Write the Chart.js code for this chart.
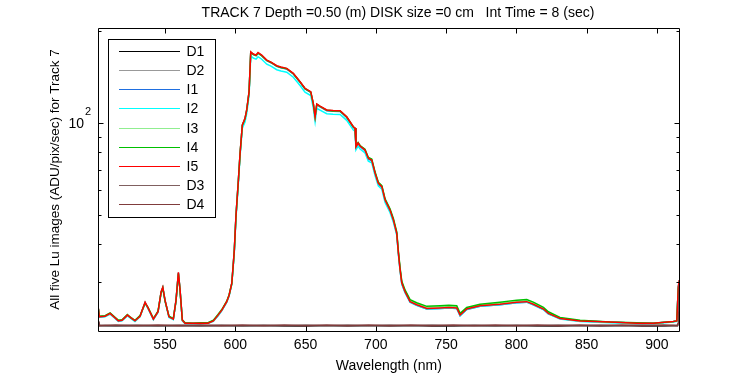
<!DOCTYPE html>
<html><head><meta charset="utf-8">
<script src="https://cdn.jsdelivr.net/npm/chart.js@4.4.0/dist/chart.umd.min.js"></script>
<style>html,body{margin:0;padding:0;background:#fff;}</style>
</head><body>
<canvas id="c" width="750" height="375" style="width:750px;height:375px;display:block"></canvas>
<script>
const FONT = "'Liberation Sans',Arial,sans-serif";
const titleText = "TRACK 7 Depth =0.50 (m) DISK size =0 cm   Int Time = 8 (sec)";
const xLabel = "Wavelength (nm)";
const yLabel = "All five Lu images (ADU/pix/sec) for Track 7";
const xTicks = [550,600,650,700,750,800,850,900];
const yTicks = [30,40,50,60,70,80,90,100,200];
const seriesNames = ["D1","D2","I1","I2","I3","I4","I5","D3","D4"];
const seriesColors = ["#000000","#999999","#1f6fe0","#00ffff","#90ee90","#00c000","#ff0000","#806060","#803c3c"];

const wl = [502.6,503.2,507.3,510.9,516.8,519.4,523.2,525.8,528.6,532.2,
535.8,537.9,541.7,545.0,547.2,548.4,550.0,552.8,555.9,557.8,
559.5,560.7,562.3,564.2,570.0,575.0,580.6,584.4,587.7,590.4,
593.9,595.6,597.5,598.6,599.3,600.5,602.2,603.4,605.0,606.9,
608.1,609.8,611.0,612.8,614.8,616.2,618.8,622.4,625.4,629.5,
632.5,636.6,641.3,646.1,649.6,653.7,655.5,656.8,658.0,660.3,
665.1,669.6,674.6,679.3,684.0,685.2,685.9,687.4,688.8,692.3,
694.7,697.1,699.5,701.8,704.3,706.6,710.1,712.5,714.9,716.1,
717.3,718.5,720.8,724.4,729.1,736.3,745.7,752.0,757.6,760.0,
764.7,774.2,788.4,800.3,807.4,812.1,819.3,822.8,831.1,845.4,
866.7,885.7,897.5,911.8,914.2,915.3,916.0];

const I1 = [24.5,23.1,23.2,23.6,22.4,22.5,23.3,22.9,22.4,23.2,
25.7,24.6,22.7,23.9,27.8,28.8,26.1,23.1,22.7,26.1,
32.2,28.2,22.5,22.0,22.0,22.0,22.0,22.4,23.3,24.2,
25.8,27.1,29.7,34.5,38.2,49.6,64.6,79.0,97.9,103.0,
109.6,125.8,170.2,167.2,165.9,169.1,165.9,159.7,157.3,153.0,
151.5,150.0,144.5,135.6,129.0,125.7,115.2,104.0,114.6,112.8,
109.5,109.0,108.9,104.0,96.5,95.6,83.0,85.4,83.5,81.0,
76.0,75.1,68.0,63.0,61.4,55.5,51.5,47.8,43.2,37.1,
32.8,29.7,27.8,25.8,25.2,24.5,24.6,24.7,24.6,23.3,
24.4,25.0,25.3,25.7,25.8,25.3,24.4,23.6,22.8,22.4,
22.2,22.0,22.0,22.3,22.4,28.9,30.4];

const I2 = [24.5,23.0,23.1,23.6,22.3,22.4,23.3,22.8,22.3,23.1,
25.7,24.6,22.6,23.9,27.8,28.8,26.1,23.0,22.6,26.1,
32.1,28.2,22.4,21.9,21.9,21.9,22.0,22.3,23.3,24.2,
25.8,27.0,29.5,34.1,37.6,48.8,63.5,77.8,96.0,100.6,
107.2,122.8,165.8,163.0,161.6,164.6,161.5,155.6,153.3,149.2,
147.8,146.4,141.0,132.4,126.0,122.8,112.0,100.8,111.5,110.0,
107.0,106.6,106.5,101.8,94.6,93.8,81.6,83.8,82.0,79.6,
74.8,73.9,67.0,62.1,60.5,54.8,50.8,47.2,42.8,36.9,
32.6,29.5,27.7,25.8,25.2,24.5,24.6,24.7,24.6,23.3,
24.4,25.0,25.3,25.7,25.8,25.3,24.4,23.6,22.7,22.3,
22.1,21.9,21.9,22.2,22.3,28.8,30.3];

const I3 = [24.6,23.2,23.2,23.7,22.5,22.5,23.4,23.0,22.5,23.2,
25.7,24.7,22.8,24.0,27.8,28.8,26.1,23.2,22.8,26.1,
32.1,28.2,22.5,22.1,22.0,22.0,22.1,22.4,23.4,24.3,
25.9,27.2,29.7,34.5,38.2,49.6,64.7,79.2,98.1,103.2,
109.9,126.2,170.5,167.6,166.3,169.4,166.3,160.1,157.8,153.5,
152.0,150.5,144.9,136.1,129.5,126.2,115.6,104.7,115.0,113.2,
109.9,109.4,109.3,104.5,96.9,96.0,83.6,85.9,84.0,81.6,
76.6,75.7,68.5,63.5,61.9,56.0,51.9,48.2,43.6,37.5,
33.1,30.0,28.1,26.1,25.5,24.8,24.9,25.0,24.9,23.5,
24.6,25.2,25.6,26.0,26.1,25.6,24.6,23.8,22.9,22.4,
22.2,22.0,22.0,22.3,22.4,28.8,30.3];

const I4 = [24.4,23.2,23.3,23.8,22.5,22.6,23.5,22.9,22.5,23.3,
25.6,24.8,22.8,24.1,27.7,28.7,26.0,23.2,22.8,26.0,
32.0,28.1,22.6,22.1,22.0,22.1,22.1,22.5,23.5,24.4,
26.0,27.3,29.7,34.4,38.1,49.5,64.6,79.1,98.0,103.0,
109.8,126.0,170.0,167.5,166.0,169.0,166.0,160.0,157.6,153.3,
151.8,150.3,144.8,136.0,129.4,126.0,115.5,104.8,114.9,113.1,
109.8,109.3,109.2,104.4,96.8,95.9,83.8,86.0,84.2,81.8,
76.9,76.0,68.9,63.8,62.2,56.3,52.2,48.5,43.9,37.8,
33.4,30.2,28.3,26.3,25.7,25.0,25.1,25.2,25.1,23.7,
24.8,25.4,25.8,26.2,26.3,25.8,24.8,24.0,23.0,22.5,
22.2,22.1,22.0,22.3,22.4,28.6,30.1];

const I5 = [24.6,23.1,23.2,23.7,22.4,22.5,23.4,22.9,22.4,23.2,
25.8,24.7,22.7,24.0,27.9,28.9,26.2,23.1,22.7,26.2,
32.3,28.3,22.5,22.0,22.0,22.0,22.0,22.4,23.4,24.3,
25.9,27.2,29.8,34.6,38.3,49.8,64.9,79.4,98.3,103.4,
110.1,126.4,170.9,168.0,166.7,169.9,166.7,160.5,158.1,153.8,
152.3,150.8,145.2,136.3,129.7,126.4,115.8,104.6,115.2,113.4,
110.1,109.6,109.5,104.6,97.0,96.1,83.4,85.8,83.9,81.4,
76.4,75.5,68.3,63.3,61.7,55.8,51.7,48.0,43.4,37.3,
32.9,29.8,27.9,25.9,25.3,24.6,24.7,24.8,24.7,23.4,
24.5,25.1,25.4,25.8,25.9,25.4,24.5,23.7,22.8,22.4,
22.2,22.0,22.0,22.3,22.4,29.0,30.5];

const dWl = [502.6,503.4,515,530,545,560,575,590,605,620,635,650,665,680,695,710,725,740,755,770,785,800,815,830,845,860,875,890,905,914.5,915.5,916.0];
const D1 = [22.2,21.6,21.5,21.6,21.5,21.6,21.5,21.6,21.5,21.6,21.5,21.5,21.6,21.5,21.6,21.5,21.6,21.5,21.5,21.6,21.5,21.6,21.5,21.5,21.6,21.5,21.6,21.5,21.5,21.6,21.8,22.0];
const D2 = [22.0,21.5,21.6,21.5,21.6,21.5,21.6,21.5,21.6,21.5,21.6,21.6,21.5,21.6,21.5,21.6,21.5,21.6,21.6,21.5,21.6,21.5,21.6,21.6,21.5,21.6,21.5,21.6,21.6,21.5,21.7,21.9];
const D3 = [22.3,21.7,21.6,21.7,21.6,21.7,21.6,21.7,21.6,21.7,21.6,21.7,21.6,21.7,21.6,21.7,21.6,21.7,21.6,21.7,21.6,21.7,21.6,21.7,21.6,21.7,21.6,21.7,21.6,21.7,22.0,22.5];
const D4 = [22.4,21.6,21.7,21.6,21.7,21.6,21.7,21.6,21.7,21.6,21.7,21.6,21.7,21.6,21.7,21.6,21.7,21.6,21.7,21.6,21.7,21.6,21.7,21.6,21.7,21.6,21.7,21.6,21.7,21.6,22.2,29.5];

const seriesX = [dWl,dWl,wl,wl,wl,wl,wl,dWl,dWl];
const seriesY = [D1,D2,I1,I2,I3,I4,I5,D3,D4];

const datasets = seriesNames.map((n,i)=>({
  label:n,
  data: seriesX[i].map((x,j)=>({x:x,y:seriesY[i][j]})),
  borderColor: seriesColors[i],
  backgroundColor: seriesColors[i],
  borderWidth: 1.5,
  pointRadius: 0,
  tension: 0,
  fill: false,
  order: 9 - i
}));

const deco = {
  id:'deco',
  afterDraw(chart){
    const ctx = chart.ctx, a = chart.chartArea;
    const xs = chart.scales.x, ys = chart.scales.y;
    const L = Math.round(a.left)+0.5, R = Math.round(a.right)+0.5, T = Math.round(a.top)+0.5, B = Math.round(a.bottom)+0.5;
    ctx.save();
    ctx.strokeStyle = '#000'; ctx.lineWidth = 1;
    ctx.beginPath();
    ctx.rect(L, T, R-L, B-T);
    xTicks.forEach(v=>{
      const p = Math.round(xs.getPixelForValue(v))+0.5;
      ctx.moveTo(p,B); ctx.lineTo(p,B-5);
      ctx.moveTo(p,T); ctx.lineTo(p,T+5);
    });
    yTicks.forEach(v=>{
      const p = Math.round(ys.getPixelForValue(v))+0.5;
      const len = v===100 ? 5 : 3;
      ctx.moveTo(L,p); ctx.lineTo(L+len,p);
      ctx.moveTo(R,p); ctx.lineTo(R-len,p);
    });
    ctx.stroke();
    const p100 = ys.getPixelForValue(100);
    ctx.fillStyle = '#000';
    ctx.font = '14px ' + FONT;
    ctx.textAlign = 'right'; ctx.textBaseline = 'middle';
    ctx.fillText('10', 84, p100+1);
    ctx.font = '11px ' + FONT;
    ctx.textAlign = 'left';
    ctx.fillText('2', 85, p100-11);
    ctx.font = '14px ' + FONT;
    ctx.textAlign = 'center'; ctx.textBaseline = 'middle';
    ctx.fillText(titleText, 398, 13);
    const lx0 = 108.5, ly0 = 39.5, lw = 107, lh = 178;
    ctx.fillStyle = '#fff';
    ctx.fillRect(lx0, ly0, lw, lh);
    ctx.strokeStyle = '#000';
    ctx.strokeRect(lx0, ly0, lw, lh);
    seriesNames.forEach((n,i)=>{
      const y = Math.round(50.7 + i*19.2) + 0.5;
      ctx.strokeStyle = seriesColors[i];
      ctx.lineWidth = 1;
      ctx.beginPath(); ctx.moveTo(119, y); ctx.lineTo(180, y); ctx.stroke();
      ctx.fillStyle = '#000';
      ctx.font = '14px ' + FONT;
      ctx.textAlign = 'left'; ctx.textBaseline = 'middle';
      ctx.fillText(n, 186.5, y+0.5);
    });
    ctx.restore();
  }
};

new Chart(document.getElementById('c'), {
  type:'line',
  data:{datasets},
  options:{
    responsive:false,
    animation:false,
    devicePixelRatio:1,
    layout:{padding:{left:49, top:28.3, right:70.7, bottom:0}},
    plugins:{legend:{display:false}, title:{display:false}, tooltip:{enabled:false}},
    scales:{
      x:{
        type:'linear', min:502.5, max:916,
        grid:{display:false, drawTicks:false},
        border:{display:false},
        afterBuildTicks(s){ s.ticks = xTicks.map(v=>({value:v})); },
        ticks:{font:{family:FONT, size:14}, color:'#000', padding:6, maxRotation:0, autoSkip:false, includeBounds:false},
        title:{display:true, text:xLabel, color:'#000', font:{family:FONT, size:14, lineHeight:1}, padding:{top:0, bottom:2}},
        afterFit(s){ s.height = 44.3; }
      },
      y:{
        type:'logarithmic', min:20.8, max:204,
        grid:{display:false, drawTicks:false},
        border:{display:false},
        afterBuildTicks(s){ s.ticks = yTicks.map(v=>({value:v})); },
        ticks:{display:false},
        title:{display:true, text:yLabel, color:'#000', font:{family:FONT, size:13.5, lineHeight:1}, padding:0},
        afterFit(s){ s.width = 49.3; }
      }
    }
  },
  plugins:[deco]
});
</script>
</body></html>
